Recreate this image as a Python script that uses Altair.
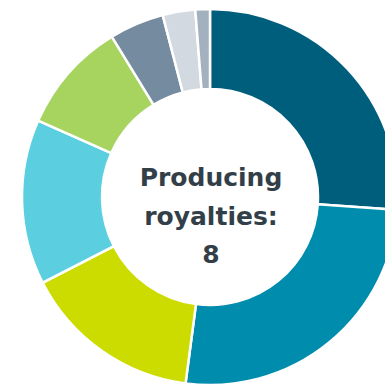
import altair as alt
import pandas as pd

categories = ["A", "B", "C", "D", "E", "F", "G", "H"]
values = [26.1, 26.0, 15.4, 14.2, 9.6, 4.7, 2.8, 1.25]
colors = ["#005E7D", "#008DAD", "#CDDC00", "#5BCFE0", "#A6D45F", "#758B9F", "#D3D9E0", "#A3B1BE"]
center_lines = ["Producing", "royalties:", "8"]

df = pd.DataFrame({"cat": categories, "value": values, "idx": list(range(len(values)))})

arc = alt.Chart(df).mark_arc(outerRadius=188, innerRadius=108, stroke="white", strokeWidth=2.5).encode(
    theta=alt.Theta("value:Q", stack=True),
    order=alt.Order("idx:Q"),
    color=alt.Color("cat:N", scale=alt.Scale(domain=categories, range=colors), legend=None),
    x=alt.value(210),
    y=alt.value(197),
)

text = alt.Chart(pd.DataFrame({"t": ["\n".join(center_lines)]})).mark_text(
    font="DejaVu Sans", fontWeight="bold", fontSize=25, color="#333F48",
    lineBreak="\n", lineHeight=38.5, align="center", baseline="middle",
).encode(text="t:N", x=alt.value(211), y=alt.value(178))

chart = alt.layer(arc, text).properties(
    width=385, height=388, padding=0, autosize=alt.AutoSizeParams(type="none")
).configure_view(stroke=None)

chart.save("out.html", embed_options={"renderer": "svg", "actions": False})
